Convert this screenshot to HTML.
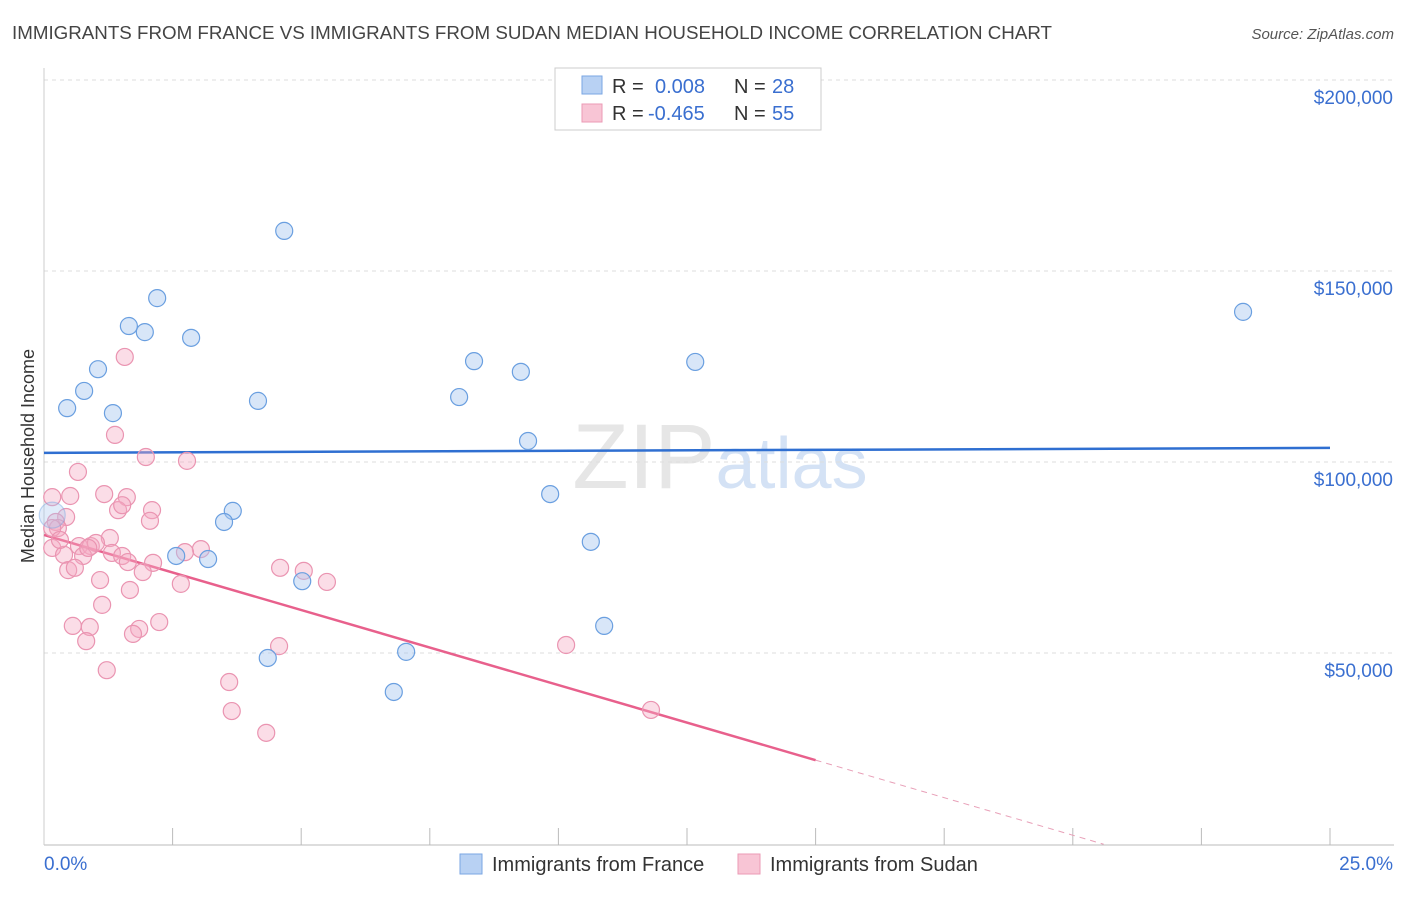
<!DOCTYPE html>
<html><head><meta charset="utf-8"><style>
body{margin:0;background:#fff;font-family:"Liberation Sans",sans-serif}
svg text{font-family:"Liberation Sans",sans-serif}
</style></head><body>
<svg id="chart" width="1406" height="892" viewBox="0 0 1406 892" xmlns="http://www.w3.org/2000/svg">
<text x="12" y="39" font-size="18.5" fill="#444" textLength="1040" lengthAdjust="spacingAndGlyphs">IMMIGRANTS FROM FRANCE VS IMMIGRANTS FROM SUDAN MEDIAN HOUSEHOLD INCOME CORRELATION CHART</text>
<text x="1394" y="39" font-size="15" fill="#555" text-anchor="end" font-style="italic">Source: ZipAtlas.com</text>
<text x="720" y="488" font-size="92" text-anchor="middle" fill="#e6e6e6" font-family="Liberation Serif">ZIP<tspan fill="#d4e2f5" font-family="Liberation Sans" font-size="72">atlas</tspan></text>
<text transform="translate(34,456) rotate(-90)" font-size="18" fill="#333" text-anchor="middle">Median Household Income</text>
<g id="grid"></g><g id="axes"></g><g id="lines"></g><g id="points"></g>
<g>
<rect x="555" y="68" width="266" height="62" fill="#fff" stroke="#ccc"/>
<rect x="582" y="76" width="20" height="18" fill="#b8d1f3" stroke="#7aa6e3"/>
<text x="612" y="93" font-size="20" fill="#333">R = </text><text x="655" y="93" font-size="20" fill="#3a6fd0">0.008</text>
<text x="734" y="93" font-size="20" fill="#333">N = </text><text x="772" y="93" font-size="20" fill="#3a6fd0">28</text>
<rect x="582" y="104" width="20" height="18" fill="#f8c5d5" stroke="#eb9ab5"/>
<text x="612" y="120" font-size="20" fill="#333">R = </text><text x="648" y="120" font-size="20" fill="#3a6fd0">-0.465</text>
<text x="734" y="120" font-size="20" fill="#333">N = </text><text x="772" y="120" font-size="20" fill="#3a6fd0">55</text>
</g>
<g>
<rect x="460" y="854" width="22" height="20" fill="#b8d1f3" stroke="#7aa6e3"/>
<text x="492" y="871" font-size="20" fill="#333">Immigrants from France</text>
<rect x="738" y="854" width="22" height="20" fill="#f8c5d5" stroke="#eb9ab5"/>
<text x="770" y="871" font-size="20" fill="#333">Immigrants from Sudan</text>
</g>
</svg>
<script>
const yTicks=[50000,100000,150000,200000];
const yTickLabels=["$50,000","$100,000","$150,000","$200,000"];
const xTickLabels=["0.0%","25.0%"];
const franceX=[4.67,2.20,1.65,1.96,2.86,1.05,0.78,0.45,1.34,4.16,8.36,9.27,12.66,23.31,8.07,9.41,9.84,3.67,3.50,2.57,3.19,10.63,5.02,10.89,4.35,7.04,6.80,0.16];
const franceY=[160.5,142.9,135.6,134.0,132.5,124.3,118.6,114.1,112.8,116.0,126.4,123.6,126.2,139.3,117.0,105.5,91.6,87.2,84.3,75.4,74.6,79.1,68.8,57.1,48.7,50.3,39.8,86.1];
const sudanX=[1.57,1.38,1.98,2.78,0.66,0.16,0.51,1.17,1.61,2.10,1.44,1.52,2.06,0.43,0.23,0.27,0.16,1.28,0.68,0.91,0.16,0.39,0.76,1.32,1.52,1.63,2.12,3.05,2.74,1.92,0.47,0.60,4.59,5.05,5.50,1.09,2.66,1.67,1.13,0.56,0.89,2.24,1.85,1.73,0.82,4.57,10.15,1.22,3.60,3.65,11.80,4.32,0.31,1.01,0.86];
const sudanY=[127.5,107.1,101.3,100.3,97.4,90.8,91.1,91.6,90.8,87.4,87.4,88.7,84.6,85.6,84.3,82.7,82.7,80.1,78.0,78.0,77.5,75.7,75.4,76.2,75.4,73.8,73.6,77.2,76.4,71.2,71.7,72.3,72.3,71.5,68.6,69.1,68.1,66.5,62.6,57.1,56.8,58.1,56.3,55.0,53.1,51.8,52.1,45.5,42.4,34.8,35.1,29.1,79.6,78.8,77.5];
const franceTrend=[102.4,103.7];
const sudanTrend=[80.9,-3.93];
const NS="http://www.w3.org/2000/svg";
const X=v=>44+v/25*1286, Y=v=>844-v/50000*191;
function mk(t,a,p){const e=document.createElementNS(NS,t);for(const k in a)e.setAttribute(k,a[k]);document.getElementById(p).appendChild(e);return e;}
yTicks.forEach((t,i)=>{
 let l=mk('line',{x1:44,x2:1394,y1:Y(t),y2:Y(t),stroke:'#ddd','stroke-dasharray':'4,4'},'grid');
 
 
 let tx=mk('text',{x:1393,y:Y(t)+24,'font-size':19,fill:'#3a6fd0','text-anchor':'end'},'axes');
 tx.textContent=yTickLabels[i];
 
 
});
let ax=mk('line',{x1:44,x2:1394,y1:845,y2:845,stroke:'#bbb'},'axes');


let ay=mk('line',{x1:44,x2:44,y1:68,y2:845,stroke:'#ccc'},'axes');


for(let i=1;i<=10;i++){let t=mk('line',{x1:X(i*2.5),x2:X(i*2.5),y1:828,y2:845,stroke:'#bbb'},'axes');
 
 }
[[0,44,'start'],[1,1393,'end']].forEach(([i,x,a])=>{let t=mk('text',{x:x,y:870,'font-size':19,fill:'#3a6fd0','text-anchor':a},'axes');t.textContent=xTickLabels[i];
 
 });
let bl=mk('line',{x1:X(0),x2:X(25),y1:Y(franceTrend[0]*1000),y2:Y(franceTrend[1]*1000),stroke:'#2f6fd1','stroke-width':2.5},'lines');


const sy=x=>Y((sudanTrend[0]+sudanTrend[1]*x)*1000);
let pl=mk('line',{x1:X(0),x2:X(15),y1:sy(0),y2:sy(15),stroke:'#e8608c','stroke-width':2.5},'lines');


let pd=mk('line',{x1:X(15),x2:X(20.6),y1:sy(15),y2:sy(20.6),stroke:'#e8a0b8','stroke-width':1,'stroke-dasharray':'6,5'},'lines');


sudanX.forEach((x,i)=>{let c=mk('circle',{cx:X(x),cy:Y(sudanY[i]*1000),r:8.5,fill:'rgba(245,170,196,0.4)',stroke:'#ea94b1','stroke-width':1.2},'points');
 
 });
franceX.forEach((x,i)=>{let big=i==franceX.length-1;let c=mk('circle',{cx:X(x),cy:Y(franceY[i]*1000),r:big?13:8.5,fill:big?'rgba(170,200,240,0.35)':'rgba(169,200,240,0.45)',stroke:big?'rgba(106,159,224,0.4)':'#6a9fe0','stroke-width':1.2},'points');
 
 });
</script>
</body></html>
